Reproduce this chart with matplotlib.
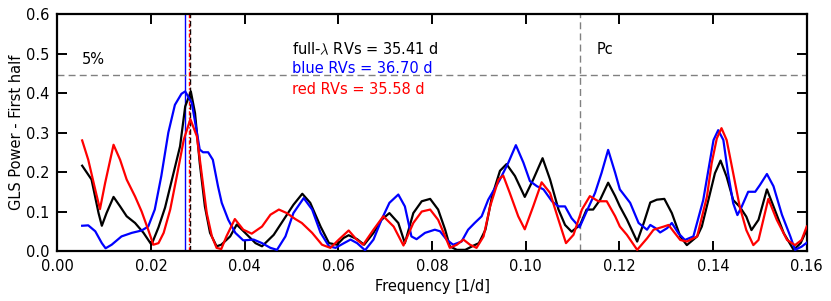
import numpy as np
import matplotlib
matplotlib.use("Agg")
import matplotlib.pyplot as plt

plt.rcParams.update({
    "font.size": 10.5,
    "font.family": "DejaVu Sans",
    "mathtext.fontset": "cm",
    "axes.linewidth": 1.6,
    "xtick.direction": "in",
    "ytick.direction": "in",
    "xtick.top": True,
    "ytick.right": True,
    "xtick.major.size": 7,
    "ytick.major.size": 7,
    "xtick.major.width": 1.4,
    "ytick.major.width": 1.4,
    "xtick.major.pad": 6,
    "ytick.major.pad": 6,
})

# ------------------------------------------------------------
# Periodogram values
# ------------------------------------------------------------
freq_full = [0.0053, 0.0073, 0.0088, 0.0095, 0.0105, 0.0120, 0.0134, 0.0148, 0.0166,
             0.0184, 0.0201, 0.0216, 0.0230, 0.0248, 0.0262, 0.0273, 0.0285, 0.0294,
             0.0304, 0.0315, 0.0326, 0.0340, 0.0350, 0.0369, 0.0383, 0.0401, 0.0423,
             0.0437, 0.0462, 0.0483, 0.0504, 0.0523, 0.0540, 0.0562, 0.0580, 0.0597,
             0.0611, 0.0622, 0.0640, 0.0655, 0.0675, 0.0692, 0.0709, 0.0728, 0.0742,
             0.0760, 0.0778, 0.0796, 0.0813, 0.0828, 0.0838, 0.0853, 0.0871, 0.0889,
             0.0900, 0.0914, 0.0928, 0.0945, 0.0959, 0.0977, 0.0998, 0.1016, 0.1036,
             0.1052, 0.1070, 0.1084, 0.1098, 0.1116, 0.1130, 0.1144, 0.1159, 0.1176,
             0.1191, 0.1201, 0.1216, 0.1238, 0.1252, 0.1266, 0.1280, 0.1296, 0.1312,
             0.1330, 0.1344, 0.1366, 0.1376, 0.1390, 0.1404, 0.1416, 0.1429, 0.1443,
             0.1457, 0.1471, 0.1482, 0.1497, 0.1515, 0.1529, 0.1551, 0.1572, 0.1587,
             0.1600]
power_full = [0.216, 0.181, 0.096, 0.064, 0.096, 0.137, 0.113, 0.088, 0.071,
              0.046, 0.016, 0.060, 0.110, 0.197, 0.265, 0.366, 0.404, 0.349,
              0.223, 0.113, 0.046, 0.012, 0.016, 0.037, 0.067, 0.046, 0.020,
              0.012, 0.041, 0.079, 0.117, 0.145, 0.122, 0.062, 0.020, 0.016,
              0.033, 0.040, 0.030, 0.016, 0.046, 0.079, 0.096, 0.071, 0.020,
              0.096, 0.126, 0.132, 0.105, 0.054, 0.012, 0.003, 0.003, 0.014,
              0.020, 0.054, 0.138, 0.203, 0.220, 0.190, 0.137, 0.181, 0.235,
              0.181, 0.105, 0.066, 0.049, 0.066, 0.105, 0.105, 0.130, 0.173,
              0.139, 0.113, 0.080, 0.024, 0.071, 0.123, 0.130, 0.132, 0.096,
              0.037, 0.015, 0.037, 0.062, 0.129, 0.197, 0.229, 0.188, 0.129,
              0.112, 0.087, 0.053, 0.079, 0.156, 0.113, 0.045, 0.003, 0.020,
              0.054]

freq_blue = [0.0053, 0.0066, 0.0081, 0.0095, 0.0103, 0.0116, 0.0137, 0.0159, 0.0180,
             0.0194, 0.0208, 0.0222, 0.0237, 0.0251, 0.0265, 0.0273, 0.0287, 0.0297,
             0.0304, 0.0311, 0.0322, 0.0332, 0.0343, 0.0351, 0.0365, 0.0380, 0.0397,
             0.0419, 0.0437, 0.0455, 0.0469, 0.0487, 0.0504, 0.0526, 0.0544, 0.0562,
             0.0580, 0.0594, 0.0612, 0.0626, 0.0640, 0.0657, 0.0675, 0.0692, 0.0709,
             0.0728, 0.0742, 0.0756, 0.0767, 0.0785, 0.0806, 0.0817, 0.0831, 0.0845,
             0.0863, 0.0877, 0.0891, 0.0906, 0.0920, 0.0945, 0.0963, 0.0979, 0.0995,
             0.1009, 0.1024, 0.1038, 0.1056, 0.1070, 0.1084, 0.1098, 0.1115, 0.1130,
             0.1148, 0.1162, 0.1176, 0.1191, 0.1201, 0.1223, 0.1241, 0.1259, 0.1266,
             0.1277, 0.1287, 0.1302, 0.1312, 0.1326, 0.1340, 0.1358, 0.1379, 0.1390,
             0.1401, 0.1411, 0.1422, 0.1432, 0.1443, 0.1452, 0.1461, 0.1475, 0.1490,
             0.1500, 0.1515, 0.1529, 0.1547, 0.1565, 0.1575, 0.1589, 0.1600]
power_blue = [0.064, 0.065, 0.050, 0.020, 0.007, 0.016, 0.037, 0.046, 0.052,
              0.062, 0.105, 0.190, 0.300, 0.370, 0.398, 0.404, 0.375, 0.307,
              0.257, 0.250, 0.250, 0.231, 0.164, 0.122, 0.079, 0.046, 0.027,
              0.029, 0.020, 0.008, 0.003, 0.037, 0.096, 0.134, 0.105, 0.046,
              0.012, 0.008, 0.020, 0.029, 0.020, 0.002, 0.029, 0.079, 0.122,
              0.143, 0.113, 0.037, 0.030, 0.046, 0.054, 0.050, 0.029, 0.016,
              0.024, 0.054, 0.071, 0.088, 0.130, 0.181, 0.224, 0.268, 0.224,
              0.177, 0.164, 0.156, 0.126, 0.113, 0.113, 0.083, 0.060, 0.100,
              0.147, 0.198, 0.256, 0.198, 0.156, 0.122, 0.071, 0.054, 0.066,
              0.058, 0.047, 0.058, 0.071, 0.045, 0.028, 0.037, 0.129, 0.205,
              0.281, 0.306, 0.281, 0.197, 0.121, 0.091, 0.112, 0.150, 0.150,
              0.167, 0.195, 0.164, 0.092, 0.037, 0.003, 0.011, 0.021]

freq_red = [0.0053, 0.0066, 0.0081, 0.0091, 0.0102, 0.0120, 0.0134, 0.0148, 0.0166,
            0.0180, 0.0194, 0.0205, 0.0216, 0.0227, 0.0241, 0.0255, 0.0270, 0.0284,
            0.0298, 0.0308, 0.0319, 0.0330, 0.0340, 0.0350, 0.0361, 0.0379, 0.0397,
            0.0415, 0.0437, 0.0455, 0.0473, 0.0490, 0.0508, 0.0522, 0.0544, 0.0565,
            0.0583, 0.0601, 0.0622, 0.0639, 0.0653, 0.0675, 0.0696, 0.0718, 0.0739,
            0.0760, 0.0778, 0.0796, 0.0813, 0.0828, 0.0838, 0.0853, 0.0867, 0.0881,
            0.0895, 0.0910, 0.0924, 0.0942, 0.0952, 0.0966, 0.0984, 0.0998, 0.1016,
            0.1034, 0.1052, 0.1070, 0.1086, 0.1102, 0.1120, 0.1137, 0.1155, 0.1173,
            0.1191, 0.1201, 0.1216, 0.1238, 0.1259, 0.1273, 0.1295, 0.1305, 0.1316,
            0.1330, 0.1344, 0.1366, 0.1387, 0.1397, 0.1408, 0.1418, 0.1429, 0.1443,
            0.1457, 0.1471, 0.1486, 0.1497, 0.1518, 0.1536, 0.1558, 0.1575, 0.1589,
            0.1600]
power_red = [0.280, 0.231, 0.155, 0.106, 0.172, 0.269, 0.231, 0.181, 0.138,
             0.100, 0.054, 0.016, 0.020, 0.046, 0.105, 0.189, 0.282, 0.334,
             0.290, 0.197, 0.096, 0.037, 0.008, 0.005, 0.037, 0.081, 0.054,
             0.044, 0.062, 0.092, 0.105, 0.096, 0.081, 0.071, 0.046, 0.016,
             0.008, 0.029, 0.052, 0.029, 0.016, 0.054, 0.088, 0.062, 0.014,
             0.071, 0.100, 0.105, 0.079, 0.037, 0.008, 0.016, 0.029, 0.016,
             0.008, 0.037, 0.113, 0.181, 0.191, 0.147, 0.088, 0.055, 0.113,
             0.174, 0.147, 0.079, 0.020, 0.041, 0.105, 0.139, 0.126, 0.126,
             0.088, 0.062, 0.041, 0.003, 0.032, 0.054, 0.062, 0.066, 0.049,
             0.028, 0.024, 0.037, 0.138, 0.222, 0.285, 0.311, 0.281, 0.197,
             0.112, 0.053, 0.015, 0.028, 0.132, 0.079, 0.028, 0.015, 0.028,
             0.062]

# best periods [d] and reference levels
period_full = 35.41
period_blue = 36.70
period_red = 35.58
period_pc = 8.96
fap_5 = 0.445

fig = plt.figure(figsize=(8.31, 3.01), dpi=100)
ax = fig.add_axes([0.069, 0.166, 0.9018, 0.7875])

ax.plot(freq_full, power_full, color="black", lw=1.6, zorder=3)
ax.plot(freq_blue, power_blue, color="blue", lw=1.6, zorder=3)
ax.plot(freq_red, power_red, color="red", lw=1.6, zorder=3)

# peak markers
ax.axvline(1.0 / period_blue, color="blue", lw=1.0)
ax.axvline(1.0 / period_full, color="black", lw=1.0, ls=(0, (4, 2)))
ax.axvline(1.0 / period_red, color="red", lw=1.0, ls=(0, (3, 1.5, 1, 1.5)))

# 5% FAP and companion period
ax.axhline(fap_5, color="gray", lw=1.0, ls=(0, (5, 3)))
ax.axvline(1.0 / period_pc, color="gray", lw=1.0, ls=(0, (5, 3)))

ax.text(0.0053, 0.484, "5%", va="center")
ax.text(0.1152, 0.511, "Pc", va="center")
ax.text(0.0501, 0.511, r"full-$\lambda$ RVs = %.2f d" % period_full, va="center", color="black")
ax.text(0.0501, 0.463, "blue RVs = %.2f d" % period_blue, va="center", color="blue")
ax.text(0.0501, 0.410, "red RVs = %.2f d" % period_red, va="center", color="red")

ax.set_xlim(0.0, 0.16)
ax.set_ylim(0.0, 0.6)
ax.set_xticks(np.arange(0.0, 0.161, 0.02))
ax.set_xticklabels(["%.2f" % t for t in np.arange(0.0, 0.161, 0.02)])
ax.set_yticks(np.arange(0.0, 0.61, 0.1))
ax.set_yticklabels(["%.1f" % t for t in np.arange(0.0, 0.61, 0.1)])
ax.set_xlabel("Frequency [1/d]", labelpad=3)
ax.set_ylabel("GLS Power - First half", labelpad=1)

fig.savefig("out.png", dpi=100)
